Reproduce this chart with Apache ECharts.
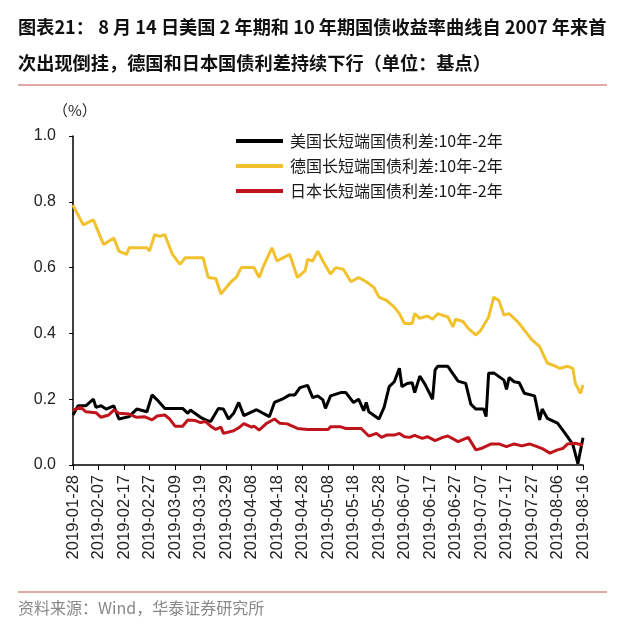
<!DOCTYPE html>
<html><head><meta charset="utf-8">
<script src="https://cdn.jsdelivr.net/npm/echarts@6/dist/echarts.min.js"></script>
<style>html,body{margin:0;padding:0;background:#fff}#c{width:621px;height:633px}</style>
</head><body><div id="c"></div>
<script>
const titleLine1 = '图表21： 8 月 14 日美国 2 年期和 10 年期国债收益率曲线自 2007 年来首';
const titleLine2 = '次出现倒挂，德国和日本国债利差持续下行（单位：基点）';
const sourceText = '资料来源：Wind，华泰证券研究所';
const unitText = '（%）';
const seriesNames = ['美国长短端国债利差:10年-2年', '德国长短端国债利差:10年-2年', '日本长短端国债利差:10年-2年'];
const tickLabels = ['2019-01-28','2019-02-07','2019-02-17','2019-02-27','2019-03-09','2019-03-19','2019-03-29','2019-04-08','2019-04-18','2019-04-28','2019-05-08','2019-05-18','2019-05-28','2019-06-07','2019-06-17','2019-06-27','2019-07-07','2019-07-17','2019-07-27','2019-08-06','2019-08-16'];
const yTicks = [0, 0.2, 0.4, 0.6, 0.8, 1.0];

const usDates = ['01-28','01-30','02-02','02-05','02-06','02-08','02-10','02-13','02-15','02-19','02-22','02-26','02-28','03-02','03-05','03-12','03-14','03-15','03-19','03-21','03-23','03-26','03-28','03-30','04-01','04-03','04-05','04-10','04-15','04-17','04-20','04-23','04-25','04-27','04-30','05-02','05-04','05-06','05-07','05-09','05-13','05-15','05-18','05-20','05-22','05-23','05-24','05-28','05-30','06-01','06-03','06-05','06-06','06-08','06-10','06-11','06-13','06-15','06-18','06-19','06-20','06-24','06-28','07-01','07-03','07-05','07-08','07-09','07-10','07-12','07-16','07-17','07-18','07-20','07-22','07-24','07-28','07-30','07-31','08-02','08-06','08-09','08-12','08-14','08-16'];
const usValues = [0.152,0.18,0.18,0.20,0.175,0.18,0.17,0.18,0.14,0.147,0.17,0.162,0.213,0.198,0.172,0.172,0.157,0.167,0.145,0.137,0.132,0.172,0.17,0.14,0.157,0.19,0.15,0.168,0.147,0.19,0.20,0.213,0.213,0.235,0.242,0.205,0.21,0.198,0.172,0.21,0.22,0.22,0.19,0.20,0.165,0.19,0.162,0.14,0.175,0.238,0.253,0.294,0.238,0.248,0.25,0.22,0.27,0.246,0.20,0.289,0.30,0.30,0.255,0.248,0.185,0.17,0.17,0.147,0.279,0.28,0.258,0.23,0.266,0.253,0.25,0.218,0.21,0.137,0.17,0.142,0.127,0.096,0.063,0.004,0.083];

const deDates = ['01-28','02-01','02-05','02-09','02-13','02-15','02-18','02-19','02-26','02-27','03-01','03-03','03-05','03-08','03-11','03-13','03-20','03-22','03-25','03-27','03-31','04-02','04-04','04-09','04-11','04-13','04-16','04-18','04-23','04-26','04-29','04-30','05-02','05-04','05-06','05-09','05-11','05-14','05-17','05-20','05-23','05-26','05-28','05-31','06-03','06-05','06-07','06-10','06-11','06-13','06-16','06-18','06-20','06-24','06-26','06-27','06-30','07-02','07-05','07-07','07-10','07-12','07-14','07-16','07-18','07-20','07-22','07-25','07-27','07-30','08-02','08-04','08-07','08-10','08-12','08-13','08-15','08-16'];
const deValues = [0.79,0.73,0.745,0.67,0.69,0.65,0.64,0.66,0.66,0.65,0.70,0.695,0.70,0.64,0.61,0.63,0.63,0.57,0.567,0.52,0.557,0.57,0.60,0.60,0.57,0.61,0.66,0.62,0.64,0.57,0.59,0.625,0.62,0.65,0.62,0.58,0.60,0.595,0.557,0.57,0.557,0.54,0.51,0.50,0.48,0.46,0.43,0.43,0.46,0.446,0.453,0.443,0.46,0.45,0.42,0.443,0.436,0.415,0.395,0.41,0.45,0.51,0.50,0.456,0.46,0.446,0.43,0.40,0.38,0.36,0.31,0.304,0.294,0.30,0.294,0.248,0.218,0.243];

const jpDates = ['01-28','01-31','02-02','02-06','02-08','02-11','02-13','02-15','02-19','02-22','02-25','02-28','03-02','03-05','03-07','03-09','03-12','03-14','03-17','03-19','03-21','03-23','03-25','03-27','03-28','04-01','04-03','04-05','04-08','04-09','04-11','04-14','04-17','04-19','04-22','04-26','04-30','05-08','05-09','05-13','05-15','05-21','05-24','05-27','05-29','05-31','06-03','06-05','06-07','06-09','06-11','06-14','06-16','06-19','06-22','06-24','06-28','07-02','07-05','07-07','07-11','07-14','07-17','07-20','07-23','07-26','07-29','07-31','08-03','08-06','08-08','08-10','08-13','08-16'];
const jpValues = [0.167,0.175,0.162,0.159,0.145,0.152,0.167,0.157,0.155,0.145,0.147,0.137,0.149,0.152,0.139,0.118,0.118,0.137,0.135,0.129,0.132,0.118,0.108,0.115,0.096,0.104,0.113,0.126,0.115,0.118,0.106,0.127,0.14,0.127,0.125,0.111,0.108,0.108,0.116,0.116,0.111,0.111,0.088,0.096,0.084,0.091,0.091,0.096,0.086,0.084,0.09,0.081,0.086,0.074,0.084,0.088,0.071,0.084,0.046,0.05,0.064,0.064,0.056,0.064,0.058,0.064,0.056,0.05,0.036,0.046,0.05,0.064,0.066,0.06];

const colors = ['#000000', '#F2C12E', '#C0141C'];
const FONT = '"Liberation Sans", Arial, "Noto Sans CJK SC", sans-serif';
const CJK = '"Noto Sans CJK SC", "Liberation Sans", sans-serif';

// calendar days for the category axis
const days = [];
const t0 = Date.UTC(2019, 0, 28), t1 = Date.UTC(2019, 7, 16);
for (let t = t0; t <= t1; t += 86400000) days.push(new Date(t).toISOString().slice(0, 10));

function pairs(dates, vals) { return dates.map((d, i) => ['2019-' + d, vals[i]]); }

const chart = echarts.init(document.getElementById('c'), null, { renderer: 'canvas' });
chart.setOption({
  animation: false,
  backgroundColor: '#fff',
  grid: { left: 73, right: 38, top: 136, bottom: 168, containLabel: false },
  legend: {
    orient: 'vertical', left: 231, top: 128, itemWidth: 47, itemHeight: 4, itemGap: 9,
    icon: 'rect',
    textStyle: { fontSize: 16, color: '#1a1a1a', fontFamily: CJK, padding: [0, 0, 0, 2] },
    data: seriesNames
  },
  xAxis: {
    type: 'category', data: days, boundaryGap: false,
    axisLine: { lineStyle: { color: '#000', width: 1.5 } },
    axisTick: { interval: 9, length: 5, lineStyle: { color: '#000' } },
    axisLabel: {
      interval: 9, rotate: 90, margin: 10, fontSize: 16.5, color: '#222', fontFamily: FONT,
      formatter: v => tickLabels.indexOf(v) >= 0 ? v : ''
    },
    splitLine: { show: false }
  },
  yAxis: {
    type: 'value', min: yTicks[0], max: yTicks[yTicks.length - 1], interval: 0.2,
    axisLine: { show: true, lineStyle: { color: '#000', width: 1.5 } },
    axisTick: { show: true, length: 4, lineStyle: { color: '#000' } },
    axisLabel: { margin: 17, fontSize: 16, color: '#222', fontFamily: FONT, formatter: v => v.toFixed(1) },
    splitLine: { show: false }
  },
  series: [
    { name: seriesNames[0], type: 'line', data: pairs(usDates, usValues), showSymbol: false, symbol: 'none', lineStyle: { width: 3, color: colors[0] }, itemStyle: { color: colors[0] }, z: 3 },
    { name: seriesNames[1], type: 'line', data: pairs(deDates, deValues), showSymbol: false, symbol: 'none', lineStyle: { width: 3, color: colors[1] }, itemStyle: { color: colors[1] }, z: 2 },
    { name: seriesNames[2], type: 'line', data: pairs(jpDates, jpValues), showSymbol: false, symbol: 'none', lineStyle: { width: 3, color: colors[2] }, itemStyle: { color: colors[2] }, z: 4 }
  ],
  graphic: [
    { type: 'text', left: 18, top: 18, style: { text: titleLine1, font: 'bold 18.2px ' + CJK, fill: '#111' } },
    { type: 'text', left: 18, top: 54, style: { text: titleLine2, font: 'bold 18.2px ' + CJK, fill: '#111' } },
    { type: 'line', shape: { x1: 18, y1: 85, x2: 607, y2: 85 }, style: { stroke: '#C0504D', lineWidth: 1 } },
    { type: 'text', left: 53, top: 103, style: { text: unitText, font: '15px ' + CJK, fill: '#222' } },
    { type: 'line', shape: { x1: 18, y1: 592, x2: 607, y2: 592 }, style: { stroke: '#C0504D', lineWidth: 1 } },
    { type: 'text', left: 18, top: 600, style: { text: sourceText, font: '16px ' + CJK, fill: '#888' } }
  ]
});
</script></body></html>
